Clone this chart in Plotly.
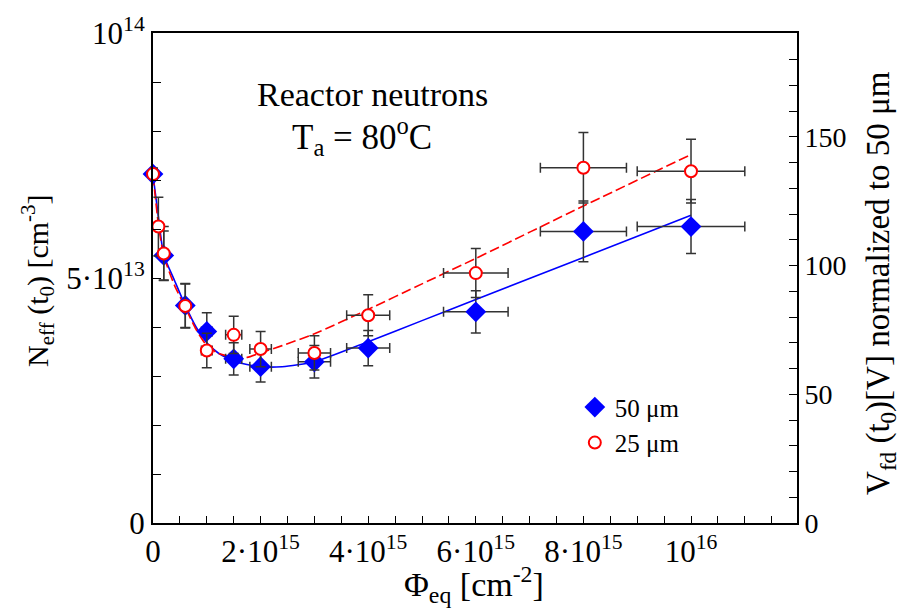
import plotly.graph_objects as go

# ---- data (x in units of 1e15 cm^-2, y in units of 1e13 cm^-3) ----
x50 = [0, 0.2, 0.6, 1.0, 1.5, 2.0, 3.0, 4.0, 6.0, 8.0, 10.0]
y50 = [7.12, 5.46, 4.44, 3.91, 3.35, 3.19, 3.29, 3.57, 4.31, 5.95, 6.05]
ey50 = [0.12, 0.5, 0.45, 0.38, 0.33, 0.31, 0.33, 0.36, 0.43, 0.62, 0.55]
ex50 = [0, 0.02, 0.06, 0.1, 0.15, 0.2, 0.3, 0.4, 0.6, 0.8, 1.0]

x25 = [0, 0.1, 0.2, 0.6, 1.0, 1.5, 2.0, 3.0, 4.0, 6.0, 8.0, 10.0]
y25 = [7.12, 6.05, 5.5, 4.43, 3.52, 3.84, 3.55, 3.47, 4.24, 5.1, 7.25, 7.18]
ey25 = [0.12, 0.6, 0.55, 0.45, 0.35, 0.38, 0.36, 0.35, 0.42, 0.5, 0.72, 0.65]
ex25 = [0, 0.01, 0.02, 0.06, 0.1, 0.15, 0.2, 0.3, 0.4, 0.6, 0.8, 1.0]

# fit curves
fit50_x = [0, 0.1, 0.2, 0.4, 0.6, 0.8, 1.0, 1.2, 1.5, 2.0, 2.4, 3.0, 4.0, 5.0, 6.0, 8.0, 10.0]
fit50_y = [7.1, 6.25, 5.47, 4.95, 4.44, 4.0, 3.68, 3.48, 3.3, 3.19, 3.19, 3.29, 3.7, 4.13, 4.56, 5.42, 6.28]
fit25_x = [0, 0.1, 0.2, 0.4, 0.6, 0.8, 1.0, 1.2, 1.5, 1.75, 2.0, 2.4, 3.0, 4.0, 5.0, 6.0, 8.0, 10.0]
fit25_y = [7.1, 6.1, 5.45, 4.85, 4.4, 3.95, 3.62, 3.47, 3.38, 3.38, 3.47, 3.62, 3.86, 4.36, 4.88, 5.4, 6.47, 7.52]

x_tickvals = [0, 2, 4, 6, 8, 10]
x_ticktext = ["0", "2·10<sup>15</sup>", "4·10<sup>15</sup>", "6·10<sup>15</sup>", "8·10<sup>15</sup>", "10<sup>16</sup>"]
y_tickvals = [0, 5, 10]
y_ticktext = ["0", "5·10<sup>13</sup>", "10<sup>14</sup>"]
y2_tickvals = [0, 50, 100, 150]

FONT = "Liberation Serif, Times New Roman, Times, serif"
ERRC = "#333333"

# plot area in pixels (for placing free texts)
PL, PR, PT, PB = 153, 797, 27, 523

fig = go.Figure()

fig.add_trace(go.Scatter(x=fit50_x, y=fit50_y, mode="lines",
                         line=dict(color="#0000ff", width=1.6, shape="spline", smoothing=0.6),
                         showlegend=False, hoverinfo="skip"))
fig.add_trace(go.Scatter(x=fit25_x, y=fit25_y, mode="lines",
                         line=dict(color="#ff0000", width=1.6, dash="10px,4px", shape="spline", smoothing=0.6),
                         showlegend=False, hoverinfo="skip"))

fig.add_trace(go.Scatter(
    x=x50, y=y50, mode="markers", name="50 μm",
    marker=dict(symbol="diamond", size=16, color="#0000ff", line=dict(width=0)),
    error_y=dict(type="data", array=ey50, color=ERRC, thickness=1.5, width=5),
    error_x=dict(type="data", array=ex50, color=ERRC, thickness=1.5, width=5),
    cliponaxis=False))
fig.add_trace(go.Scatter(
    x=x25, y=y25, mode="markers", name="25 μm",
    marker=dict(symbol="circle", size=12, color="white", line=dict(width=2, color="#ff0000")),
    error_y=dict(type="data", array=ey25, color=ERRC, thickness=1.5, width=5),
    error_x=dict(type="data", array=ex25, color=ERRC, thickness=1.5, width=5),
    cliponaxis=False))

fig.add_trace(go.Scatter(x=[], y=[], yaxis="y2", showlegend=False, hoverinfo="skip"))

fig.update_layout(
    width=902, height=612,
    margin=dict(l=PL, r=902 - PR, t=PT, b=612 - PB),
    paper_bgcolor="white", plot_bgcolor="white",
    font=dict(family=FONT, size=30, color="black"),
    showlegend=True,
    legend=dict(x=0.655, y=0.283, xanchor="left", yanchor="top",
                font=dict(family=FONT, size=25), bgcolor="rgba(0,0,0,0)",
                itemsizing="trace", tracegroupgap=2),
    xaxis=dict(range=[0, 11.97], tickvals=x_tickvals, ticktext=x_ticktext,
               ticks="inside", ticklen=7, tickwidth=1.2, tickcolor="black",
               minor=dict(dtick=0.5, ticks="inside", ticklen=7, tickwidth=1.2, tickcolor="black"),
               showline=True, linewidth=2, linecolor="black", mirror=True,
               showgrid=False, zeroline=False, tickfont=dict(size=31)),
    yaxis=dict(range=[0, 10], tickvals=y_tickvals, ticktext=y_ticktext,
               ticks="inside", ticklen=8, tickwidth=1.2, tickcolor="black",
               minor=dict(dtick=1, ticks="inside", ticklen=8, tickwidth=1.2, tickcolor="black"),
               showline=True, linewidth=2, linecolor="black",
               showgrid=False, zeroline=False, tickfont=dict(size=31)),
    yaxis2=dict(range=[0, 190.3], overlaying="y", side="right", tickvals=y2_tickvals,
                ticks="inside", ticklen=8, tickwidth=1.2, tickcolor="black",
                minor=dict(dtick=10, ticks="inside", ticklen=8, tickwidth=1.2, tickcolor="black"),
                showline=True, linewidth=2, linecolor="black",
                showgrid=False, zeroline=False, tickfont=dict(size=28)),
)

ann = [
    dict(text="Reactor neutrons", x=372, y=89, size=34),
    dict(text="T<sub>a</sub> = 80<sup>o</sup>C", x=362, y=132, size=35),
    dict(text="N<sub>eff</sub> (t<sub>0</sub>) [cm<sup>-3</sup>]", x=38, y=278, textangle=-90, size=30),
    dict(text="Φ<sub>eq</sub> [cm<sup>-2</sup>]", x=474, y=585, size=34),
    dict(text="V<sub>fd</sub> (t<sub>0</sub>)[V] normalized to 50 μm", x=881, y=280, textangle=-90, size=33),
]
for a in ann:
    fig.add_annotation(text=a["text"], x=(a["x"] - PL) / (PR - PL), y=(PB - a["y"]) / (PB - PT),
                       xref="paper", yref="paper", showarrow=False,
                       xanchor="center", yanchor="middle",
                       textangle=a.get("textangle", 0),
                       font=dict(family=FONT, size=a["size"], color="black"))

fig.write_html("out.html")
